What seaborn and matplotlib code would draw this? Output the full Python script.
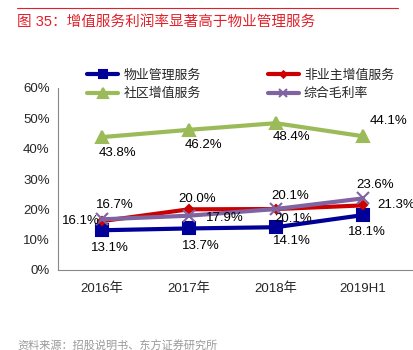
import pandas as pd
import matplotlib
matplotlib.use("Agg")
import matplotlib.pyplot as plt
from matplotlib.lines import Line2D
import seaborn as sns

# data
periods = ["2016年", "2017年", "2018年", "2019H1"]
series_names = ["物业管理服务", "非业主增值服务", "社区增值服务", "综合毛利率"]
property_mgmt = [13.1, 13.7, 14.1, 18.1]
non_owner_vas = [16.1, 20.0, 20.1, 21.3]
community_vas = [43.8, 46.2, 48.4, 44.1]
gross_margin = [16.7, 17.9, 20.1, 23.6]
y_ticks = [0, 10, 20, 30, 40, 50, 60]

colors = ["#000099", "#CC0000", "#9BBB59", "#8064A2"]
markers = ["s", "D", "^", "x"]
msizes = [8, 4, 9, 8]

# label offsets in pixels (dx, dy, ha) for each series/point
offsets = [
    [(8, -18, "center"), (12, -18, "center"), (16, -14, "center"), (4, -17, "center")],
    [(-2, 0, "right"), (8, 10, "center"), (17, -10, "center"), (14, 0, "left")],
    [(16, -16, "center"), (15, -15, "center"), (16, -14, "center"), (7, 15, "left")],
    [(13, 14, "center"), (17, -2, "left"), (14, 13, "center"), (12, 13, "center")],
]

sns.set_style("white")
plt.rcParams["font.family"] = ["Liberation Sans", "Noto Sans CJK SC"]

values = [property_mgmt, non_owner_vas, community_vas, gross_margin]
df = pd.DataFrame({
    "period": periods * 4,
    "series": [n for n in series_names for _ in periods],
    "value": [v for vals in values for v in vals],
})
df["x"] = [i for _ in series_names for i in range(len(periods))]

fig = plt.figure(figsize=(4.13, 3.5), dpi=100)
ax = fig.add_axes([58 / 413, 1 - 270 / 350, 1 - 58 / 413, (270 - 88) / 350])

for name, col, mk, ms in zip(series_names, colors, markers, msizes):
    sub = df[df["series"] == name]
    sns.lineplot(data=sub, x="x", y="value", ax=ax, color=col, lw=3,
                 marker=mk, markersize=ms, markeredgecolor=col,
                 markeredgewidth=1.5, legend=False)

for vals, offs in zip(values, offsets):
    for i, (v, (dx, dy, ha)) in enumerate(zip(vals, offs)):
        ax.annotate(f"{v:.1f}%", (i, v), xytext=(dx, dy),
                    textcoords="offset pixels", ha=ha, va="center",
                    fontsize=9.5, color="black", annotation_clip=False)

ax.set_xlim(-0.5, 3.575)
ax.set_ylim(0, 60)
ax.set_yticks(y_ticks)
ax.set_yticklabels([f"{t}%" for t in y_ticks], fontsize=9.5)
ax.set_xticks(range(len(periods)))
ax.set_xticklabels(periods, fontsize=9.5)
ax.set_xticks([-0.5, 0.5, 1.5, 2.5, 3.5], minor=True)
ax.tick_params(axis="x", which="major", length=0, pad=9)
ax.tick_params(axis="x", which="minor", length=4, color="#888888", direction="out")
ax.tick_params(axis="y", length=3, color="#888888", direction="out", pad=3)
ax.set_xlabel("")
ax.set_ylabel("")
for s in ["top", "right"]:
    ax.spines[s].set_visible(False)
for s in ["left", "bottom"]:
    ax.spines[s].set_color("#888888")
    ax.spines[s].set_linewidth(0.8)

handles = [Line2D([], [], color=c, lw=3, marker=m, markersize=ms * 0.8,
                  markeredgecolor=c, markeredgewidth=1.5)
           for c, m, ms in zip(colors, markers, msizes)]
order = [0, 2, 1, 3]
fig.legend([handles[i] for i in order], [series_names[i] for i in order],
           ncol=2, loc="upper left", bbox_to_anchor=(82 / 413, 1 - 64 / 350),
           frameon=False, fontsize=9.3, handlelength=2.4, handletextpad=0.4,
           columnspacing=5.2, labelspacing=0.5, borderaxespad=0)

# header / footer
fig.add_artist(Line2D([17 / 413, 398 / 413], [1 - 8 / 350, 1 - 8 / 350],
                      color="#E0202A", lw=0.8))
fig.text(17 / 413, 1 - 22 / 350, "图 35：增值服务利润率显著高于物业管理服务",
         color="#E0202A", fontsize=10.5, va="center", ha="left")
fig.text(17 / 413, 1 - 346 / 350, "资料来源：招股说明书、东方证券研究所",
         color="#999999", fontsize=8, va="center", ha="left")

fig.savefig("out.png", dpi=100)
